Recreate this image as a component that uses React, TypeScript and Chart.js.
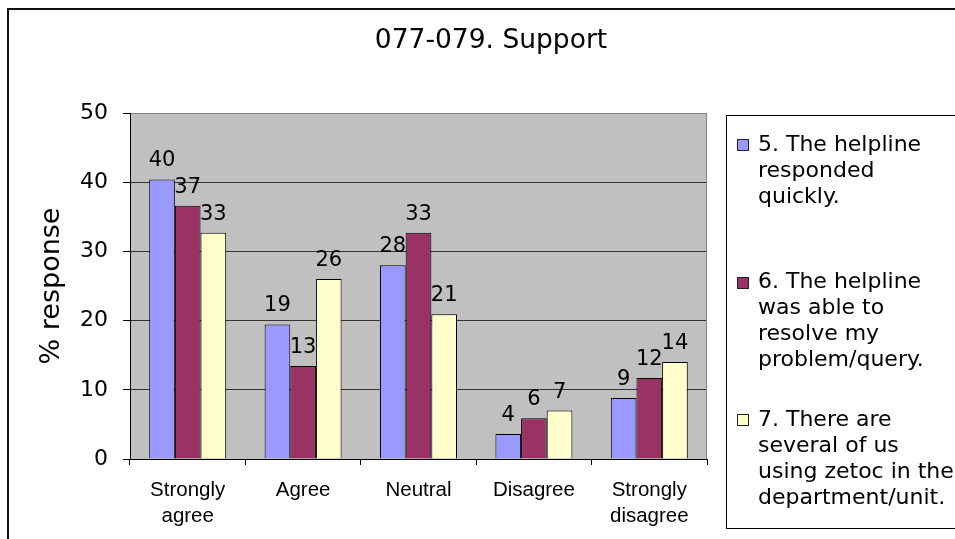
import { useEffect, useRef } from 'react';
import { Chart, registerables } from 'chart.js';

Chart.register(...registerables);

const TITLE = '077-079. Support';
const Y_TITLE = '% response';
const CATEGORIES: (string | string[])[] = [['Strongly', 'agree'], 'Agree', 'Neutral', 'Disagree', ['Strongly', 'disagree']];
const SERIES_NAMES = [
  '5. The helpline responded quickly.',
  '6. The helpline was able to resolve my problem/query.',
  '7. There are several of us using zetoc in the department/unit.',
];
const LEGEND_LINES = [
  ['5. The helpline', 'responded', 'quickly.'],
  ['6. The helpline', 'was able to', 'resolve my', 'problem/query.'],
  ['7. There are', 'several of us', 'using zetoc in the', 'department/unit.'],
];
const SERIES_5 = [40.4, 19.45, 28.0, 3.6, 8.8];
const SERIES_6 = [36.6, 13.45, 32.7, 5.9, 11.7];
const SERIES_7 = [32.7, 26.0, 20.9, 7.0, 14.0];
const COLORS = ['#9999FF', '#993366', '#FFFFCC'];
const Y_MIN = 0;
const Y_MAX = 50;
const Y_STEP = 10;

const FONT = '"DejaVu Sans", Verdana, sans-serif';
const FONT_X = '"Liberation Sans", Arial, sans-serif';

const framePlugin = {
  id: 'frame',
  beforeDraw(chart: any) {
    const { ctx, chartArea } = chart;
    ctx.save();
    ctx.fillStyle = '#fff';
    ctx.fillRect(0, 0, chart.width, chart.height);
    ctx.strokeStyle = '#111';
    ctx.lineWidth = 2;
    ctx.strokeRect(8, 9, chart.width + 20, chart.height + 20);
    ctx.fillStyle = '#C0C0C0';
    ctx.fillRect(chartArea.left, chartArea.top, chartArea.right - chartArea.left, chartArea.bottom - chartArea.top);
    ctx.fillStyle = '#000';
    ctx.font = `26.5px ${FONT}`;
    ctx.textAlign = 'center';
    ctx.textBaseline = 'middle';
    ctx.fillText(TITLE, 491, 41);
    ctx.restore();
  },
  beforeDatasetsDraw(chart: any) {
    const { ctx, chartArea } = chart;
    ctx.save();
    ctx.strokeStyle = '#808080';
    ctx.lineWidth = 1;
    ctx.beginPath();
    ctx.moveTo(Math.round(chartArea.right) - 0.5, chartArea.top);
    ctx.lineTo(Math.round(chartArea.right) - 0.5, chartArea.bottom);
    ctx.stroke();
    ctx.restore();
  },
};

const valueLabelPlugin = {
  id: 'valueLabels',
  afterDatasetsDraw(chart: any) {
    const { ctx } = chart;
    ctx.save();
    ctx.fillStyle = '#000';
    ctx.font = `21px ${FONT}`;
    ctx.textAlign = 'center';
    ctx.textBaseline = 'alphabetic';
    chart.data.datasets.forEach((ds: any, i: number) => {
      const meta = chart.getDatasetMeta(i);
      meta.data.forEach((bar: any, j: number) => {
        ctx.fillText(String(Math.round(ds.data[j])), bar.x, bar.y - 13);
      });
    });
    ctx.restore();
  },
};

const legendPlugin = {
  id: 'sideLegend',
  afterDraw(chart: any) {
    const { ctx } = chart;
    ctx.save();
    ctx.strokeStyle = '#000';
    ctx.lineWidth = 1;
    ctx.strokeRect(726.5, 115.5, 300, 413);
    ctx.font = `22px ${FONT}`;
    ctx.textAlign = 'left';
    ctx.textBaseline = 'middle';
    LEGEND_LINES.forEach((lines, i) => {
      const y0 = 145 + i * 137.5;
      ctx.fillStyle = COLORS[i];
      ctx.fillRect(738, Math.round(y0) - 5, 10, 10);
      ctx.strokeStyle = '#222';
      ctx.strokeRect(737.5, Math.round(y0) - 5.5, 11, 11);
      ctx.fillStyle = '#000';
      lines.forEach((t, j) => ctx.fillText(t, 758, y0 + j * 26));
    });
    ctx.restore();
  },
};

export default function App() {
  const ref = useRef<HTMLCanvasElement | null>(null);
  useEffect(() => {
    if (!ref.current) return;
    const datasets = [SERIES_5, SERIES_6, SERIES_7].map((data, i) => ({
      label: SERIES_NAMES[i],
      data,
      backgroundColor: COLORS[i],
      borderColor: '#000',
      borderWidth: 1,
      categoryPercentage: 0.667,
      barPercentage: 1,
    }));
    const chart = new Chart(ref.current, {
      type: 'bar',
      data: { labels: CATEGORIES as any, datasets },
      options: {
        responsive: false,
        animation: false,
        layout: { padding: { left: 0, right: 248, top: 113, bottom: 0 } },
        plugins: {
          legend: { display: false },
          tooltip: { enabled: false },
          title: { display: false },
        },
        scales: {
          x: {
            grid: { drawOnChartArea: false, tickLength: 6, color: '#000', offset: true },
            border: { color: '#000' },
            ticks: {
              font: { family: FONT_X, size: 20.5, lineHeight: 1.27 },
              color: '#000',
              padding: 12,
              maxRotation: 0,
              autoSkip: false,
            },
            afterFit: (s: any) => { s.height = 80; },
          },
          y: {
            min: Y_MIN,
            max: Y_MAX,
            ticks: { stepSize: Y_STEP, font: { family: FONT, size: 22 }, color: '#000', padding: 15 },
            grid: {
              color: (c: any) => (c.tick && c.tick.value === Y_MAX ? '#808080' : '#333'),
              tickColor: '#000',
              tickLength: 7,
            },
            border: { color: '#000' },
            title: {
              display: true,
              text: Y_TITLE,
              font: { family: FONT, size: 27 },
              color: '#000',
              padding: { top: 36, bottom: 0 },
            },
            afterFit: (s: any) => { s.width = 130; },
          },
        },
      },
      plugins: [framePlugin, valueLabelPlugin, legendPlugin],
    });
    return () => chart.destroy();
  }, []);
  return (
    <div style={{ position: 'fixed', left: 0, top: 0, width: 955, height: 539 }}>
      <canvas ref={ref} width={955} height={539} style={{ display: 'block' }} />
    </div>
  );
}
